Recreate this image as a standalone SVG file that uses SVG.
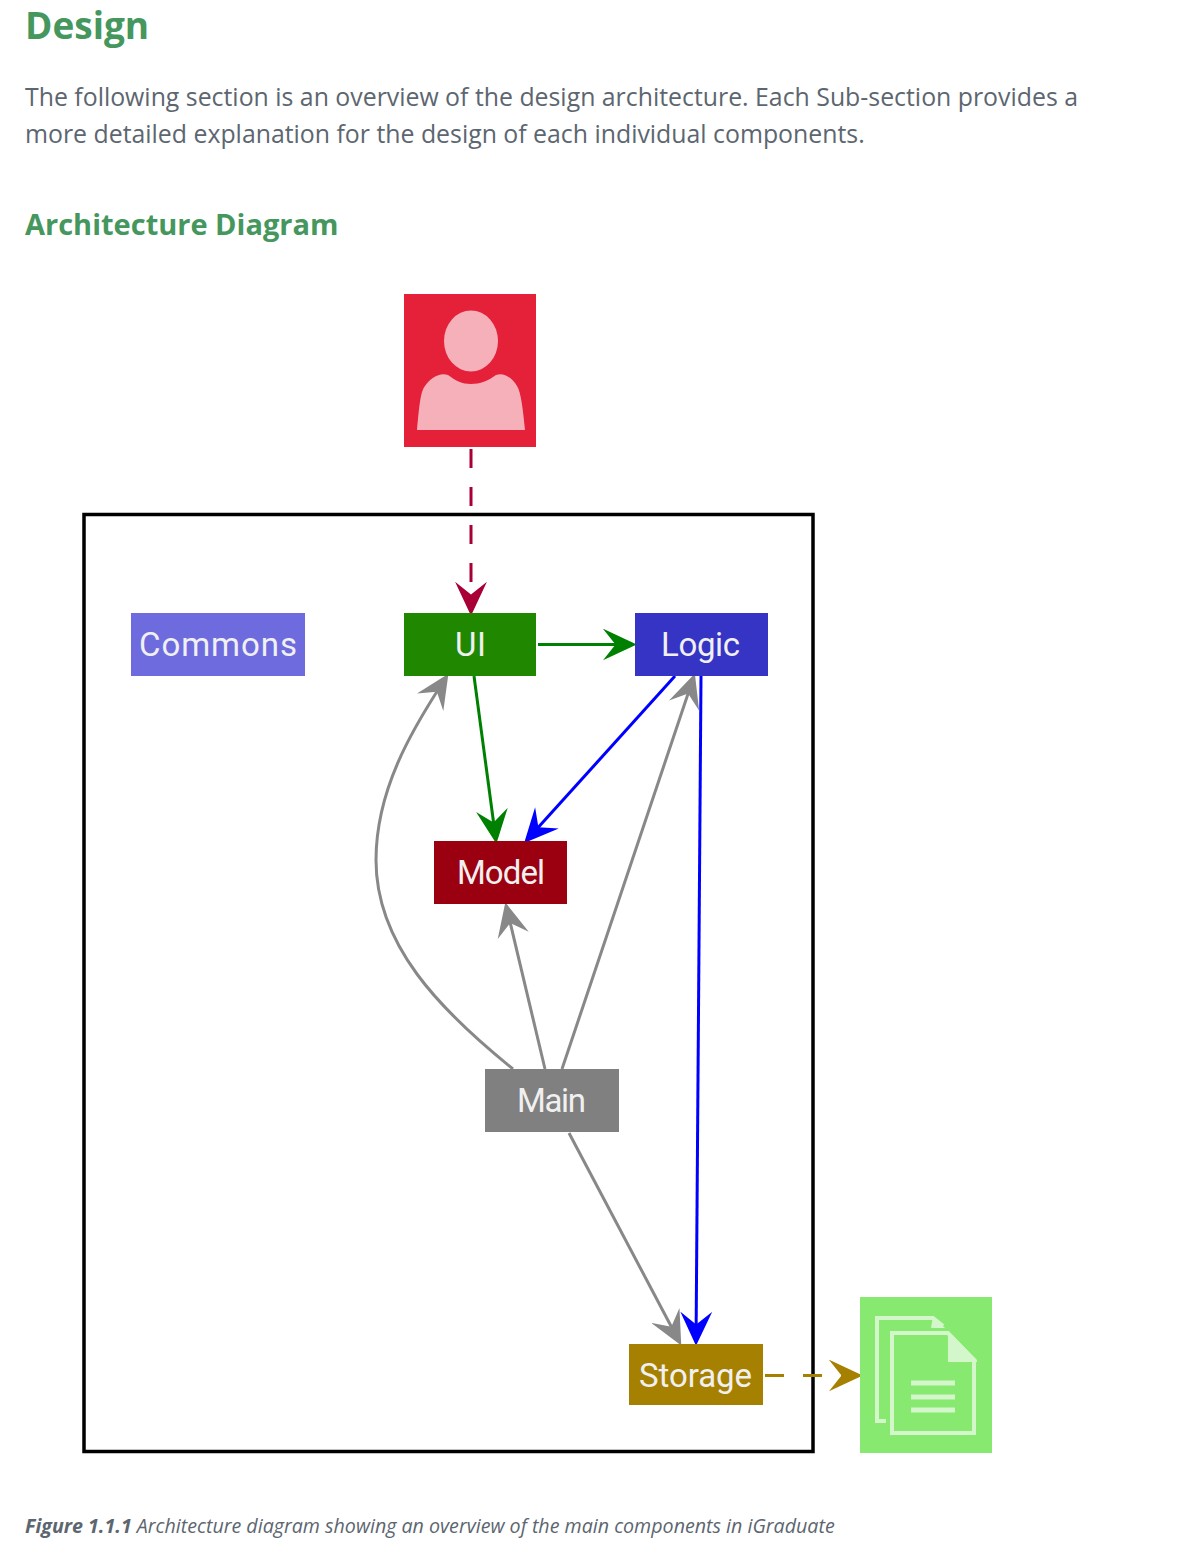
<svg xmlns="http://www.w3.org/2000/svg" width="1186" height="1568" viewBox="0 0 1186 1568">
<style>
.h{font-family:"Open Sans","Noto Sans",sans-serif;font-weight:700;fill:#45975E}
.p{font-family:"Open Sans","Noto Sans",sans-serif;font-size:24.85px;fill:#5C6670}
.c{font-family:"Open Sans","Noto Sans",sans-serif;font-size:19.65px;font-style:italic;fill:#5C6670}
.l{font-family:Roboto,"Liberation Sans",sans-serif;font-size:33px;fill:#F0F0F0;text-anchor:middle}
.e{fill:none;stroke-width:3}
.pale{fill:#D4F6CB}
.pl{fill:none;stroke:#D4F6CB;stroke-width:4}
</style>
<defs>
<marker id="aG" markerUnits="userSpaceOnUse" markerWidth="34" markerHeight="32" viewBox="0 0 32 30" refX="20" refY="15" orient="auto"><path d="M0 0L32 15L0 30L12 15Z" fill="#008000"/></marker>
<marker id="aB" markerUnits="userSpaceOnUse" markerWidth="34" markerHeight="32" viewBox="0 0 32 30" refX="20" refY="15" orient="auto"><path d="M0 0L32 15L0 30L12 15Z" fill="#0000FF"/></marker>
<marker id="aY" markerUnits="userSpaceOnUse" markerWidth="34" markerHeight="32" viewBox="0 0 32 30" refX="20" refY="15" orient="auto"><path d="M0 0L32 15L0 30L12 15Z" fill="#888888"/></marker>
<marker id="aR" markerUnits="userSpaceOnUse" markerWidth="34" markerHeight="32" viewBox="0 0 32 30" refX="20" refY="15" orient="auto"><path d="M0 0L32 15L0 30L12 15Z" fill="#A80036"/></marker>
<marker id="aS" markerUnits="userSpaceOnUse" markerWidth="34" markerHeight="32" viewBox="0 0 32 30" refX="20" refY="15" orient="auto"><path d="M0 0L32 15L0 30L12 15Z" fill="#A68000"/></marker>
</defs>
<rect width="1186" height="1568" fill="#fff"/>
<g id="page-text">
<text class="h" x="25" y="39" font-size="37">Design</text>
<text class="p" x="25" y="106">The following section is an overview of the design architecture. Each Sub-section provides a</text>
<text class="p" x="25" y="143">more detailed explanation for the design of each individual components.</text>
<text class="h" x="25" y="235" font-size="29">Architecture Diagram</text>
<text class="c" x="25" y="1533"><tspan font-weight="700">Figure 1.1.1</tspan> Architecture diagram showing an overview of the main components in iGraduate</text>
</g>
<rect id="frame" x="84" y="514.5" width="729" height="937" fill="none" stroke="#000" stroke-width="3.500"/>
<g id="connectors">
<path class="e" stroke="#A80036" stroke-dasharray="19 19" d="M471 449V603" marker-end="url(#aR)"/>
<path class="e" stroke="#008000" d="M538 644.500H624" marker-end="url(#aG)"/>
<path class="e" stroke="#008000" d="M474 676L494.700 831" marker-end="url(#aG)"/>
<path class="e" stroke="#0000FF" d="M675 676L532.700 833.600" marker-end="url(#aB)"/>
<path class="e" stroke="#0000FF" d="M701 676L696.100 1333" marker-end="url(#aB)"/>
<path class="e" stroke="#888888" d="M545 1069L508.300 914.700" marker-end="url(#aY)"/>
<path class="e" stroke="#888888" d="M562 1069L690.800 685.500" marker-end="url(#aY)"/>
<path class="e" stroke="#888888" d="M513 1069C440 1010 376 945 376 860C376 790 412 730 441.500 684.500" marker-end="url(#aY)"/>
<path class="e" stroke="#888888" d="M569 1133L675.300 1334.200" marker-end="url(#aY)"/>
<path class="e" stroke="#A68000" stroke-dasharray="19 19" d="M765 1375.500H850" marker-end="url(#aS)"/>
</g>
<g id="actor">
<rect x="404" y="294" width="132" height="153" fill="#E52039"/>
<ellipse cx="471" cy="341" rx="27" ry="30.500" fill="#F5B0BA"/>
<path d="M417 430C419 410 420 392 425 386C430 378 440 372 448 375C456 381 462 384 471 384C480 384 488 381 496 375C504 372 512 378 517 386C521 392 523 410 525 430Z" fill="#F5B0BA"/>
</g>
<g id="commons"><rect x="131" y="613" width="174" height="63" fill="#6E6BDF"/><text class="l" x="218" y="656" textLength="158">Commons</text></g>
<g id="ui"><rect x="404" y="613" width="132" height="63" fill="#1F8800"/><text class="l" x="470.500" y="656" textLength="31">UI</text></g>
<g id="logic"><rect x="635" y="613" width="133" height="63" fill="#3634C4"/><text class="l" x="700.500" y="656" textLength="79">Logic</text></g>
<g id="model"><rect x="434" y="841" width="133" height="63" fill="#9B0010"/><text class="l" x="501" y="884" textLength="88">Model</text></g>
<g id="main"><rect x="485" y="1069" width="134" height="63" fill="#808080"/><text class="l" x="551.500" y="1112" textLength="69">Main</text></g>
<g id="storage"><rect x="629" y="1344" width="134" height="61" fill="#A68000"/><text class="l" x="695.500" y="1387" textLength="113">Storage</text></g>
<g id="file">
<rect x="860" y="1297" width="132" height="156" fill="#87E96F"/>
<path class="pl" d="M886 1421H877V1318H933L943 1326"/>
<path class="pale" d="M933 1316L945 1328H931Z"/>
<path class="pl" d="M892 1333H948L974 1360V1433H892Z"/>
<path class="pale" d="M948 1331L977 1360V1362H948Z"/>
<path class="pl" style="stroke-width:5" d="M911 1383H955M911 1397H955M911 1410H955"/>
</g>
</svg>
